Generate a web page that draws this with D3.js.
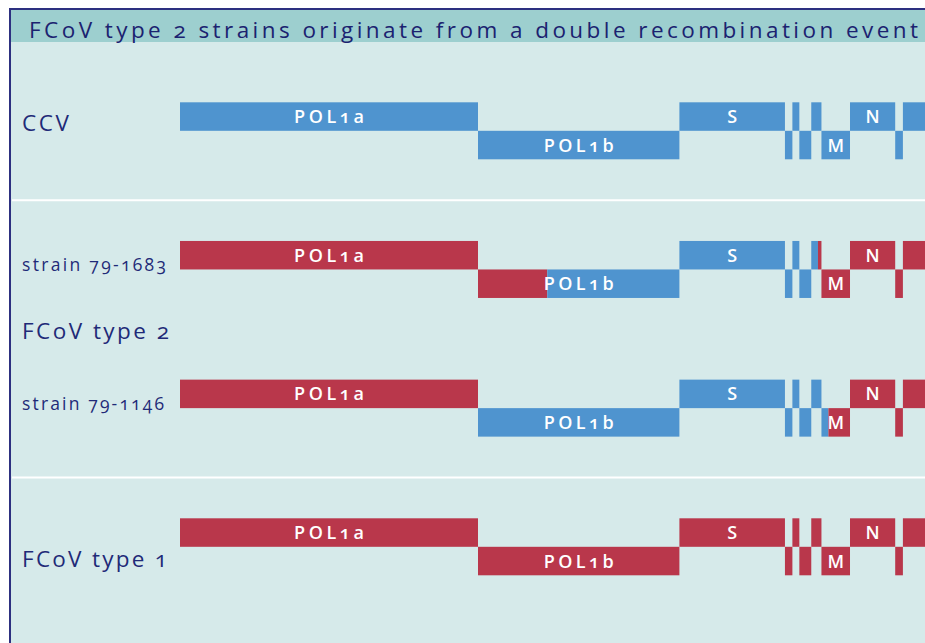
<!DOCTYPE html>
<html>
<head>
<meta charset="utf-8">
<script src="https://cdn.jsdelivr.net/npm/d3@7"></script>
<style>
  body { margin: 0; background: #fff; }
  text { font-family: "Open Sans", "DejaVu Sans", sans-serif; font-variant-numeric: oldstyle-nums; }
</style>
</head>
<body>
<div id="genomes"></div>
<script>
// genes along the genome (kb), and which reading frame lane they sit in
var genes = ["POL1a", "POL1b", "S", "3a", "3b", "3c", "E", "M", "N", "7a", "7b"];
var geneStart = [0, 12.0, 20.11, 24.36, 24.66, 24.94, 25.42, 25.83, 26.98, 28.80, 29.11];
var geneEnd = [12.0, 20.11, 24.36, 24.66, 24.94, 25.42, 25.83, 26.98, 28.80, 29.11, 30.8];
var geneFrame = [0, 1, 0, 1, 0, 1, 0, 1, 0, 1, 0];
var geneLabels = ["POL1a", "POL1b", "S", "", "", "", "", "M", "N", "", ""];

// strains and the parent virus of each stretch of their genome
var strains = ["CCV", "strain 79-1683", "strain 79-1146", "FCoV type 1"];
var breakpoints = [[0], [0, 14.79, 25.69], [0, 12.0, 26.11], [0]];
var origin = [["CCV"], ["FCoV1", "CCV", "FCoV1"], ["FCoV1", "CCV", "FCoV1"], ["FCoV1"]];

var title = "FCoV type 2 strains originate from a double recombination event";
var groupLabel = "FCoV type 2";

var W = 925, H = 643;

var svg = d3.select("#genomes")
  .append("svg")
    .attr("width", W)
    .attr("height", H);

// panel + title band
svg.append("rect")
  .attr("x", 10).attr("y", 9)
  .attr("width", W + 20).attr("height", H + 20)
  .style("fill", "#d6eaea")
  .style("stroke", "#2d3080")
  .style("stroke-width", 2);
svg.append("rect")
  .attr("x", 11).attr("y", 10)
  .attr("width", W).attr("height", 32)
  .style("fill", "#9dcfcf");
svg.append("text")
  .attr("x", 29).attr("y", 38)
  .attr("textLength", 889)
  .attr("lengthAdjust", "spacing")
  .style("font-size", "22.5px")
  .style("fill", "#1b2270")
  .text(title);

// scales
var x = d3.scaleLinear()
  .domain([0, 30])
  .range([180, 925]);
var y = d3.scaleLinear()
  .domain([0, 3])
  .range([102.3, 518.3]);
var h = 28.5;
var color = d3.scaleOrdinal()
  .domain(["CCV", "FCoV1"])
  .range(["#4f94cf", "#b9374b"]);

// white separators between groups
[0, 2].forEach(function (i) {
  var ys = (y(i) + 2 * h + y(i + 1)) / 2;
  svg.append("line")
    .attr("x1", 12).attr("x2", W)
    .attr("y1", ys).attr("y2", ys)
    .style("stroke", "#fff")
    .style("stroke-width", 2);
});

// split every gene of every strain at the recombination breakpoints
var pieces = [];
strains.forEach(function (s, i) {
  var bp = breakpoints[i].concat([Infinity]);
  genes.forEach(function (g, j) {
    for (var k = 0; k < origin[i].length; k++) {
      var a = Math.max(geneStart[j], bp[k]);
      var b = Math.min(geneEnd[j], bp[k + 1]);
      if (b > a) pieces.push({ row: i, gene: j, a: a, b: b, src: origin[i][k] });
    }
  });
});

svg.append("g")
  .selectAll("rect")
  .data(pieces)
  .enter()
  .append("rect")
    .attr("x", function (d) { return x(d.a); })
    .attr("y", function (d) { return y(d.row) + geneFrame[d.gene] * h; })
    .attr("width", function (d) { return x(d.b) - x(d.a); })
    .attr("height", h)
    .style("fill", function (d) { return color(d.src); });

// gene names
var names = [];
strains.forEach(function (s, i) {
  genes.forEach(function (g, j) {
    if (geneLabels[j]) names.push({ row: i, gene: j });
  });
});
svg.append("g")
  .selectAll("text")
  .data(names)
  .enter()
  .append("text")
    .attr("x", function (d) { return x((geneStart[d.gene] + geneEnd[d.gene]) / 2); })
    .attr("y", function (d) { return y(d.row) + geneFrame[d.gene] * h + h / 2 + 6.5; })
    .attr("text-anchor", "middle")
    .attr("textLength", function (d) { return geneLabels[d.gene].length > 1 ? 70 : null; })
    .attr("lengthAdjust", "spacing")
    .style("font-size", "18px")
    .style("font-weight", "600")
    .style("fill", "#fff")
    .text(function (d) { return geneLabels[d.gene]; });

// strain names on the left
var labelDy = [28.5, 30.5, 30.5, 48.5];
var labelW = [47, 144, 142, 145];
svg.append("g")
  .selectAll("text")
  .data(strains)
  .enter()
  .append("text")
    .attr("x", 22)
    .attr("y", function (d, i) { return y(i) + labelDy[i]; })
    .attr("textLength", function (d, i) { return labelW[i]; })
    .attr("lengthAdjust", "spacing")
    .style("font-size", function (d) { return d.indexOf("strain") === 0 ? "17.5px" : "22.5px"; })
    .style("fill", "#1f2a78")
    .text(function (d) { return d; });

svg.append("text")
  .attr("x", 22)
  .attr("y", y(1.5) + 28.5)
  .attr("textLength", 147)
  .attr("lengthAdjust", "spacing")
  .style("font-size", "22.5px")
  .style("fill", "#1f2a78")
  .text(groupLabel);
</script>
</body>
</html>
